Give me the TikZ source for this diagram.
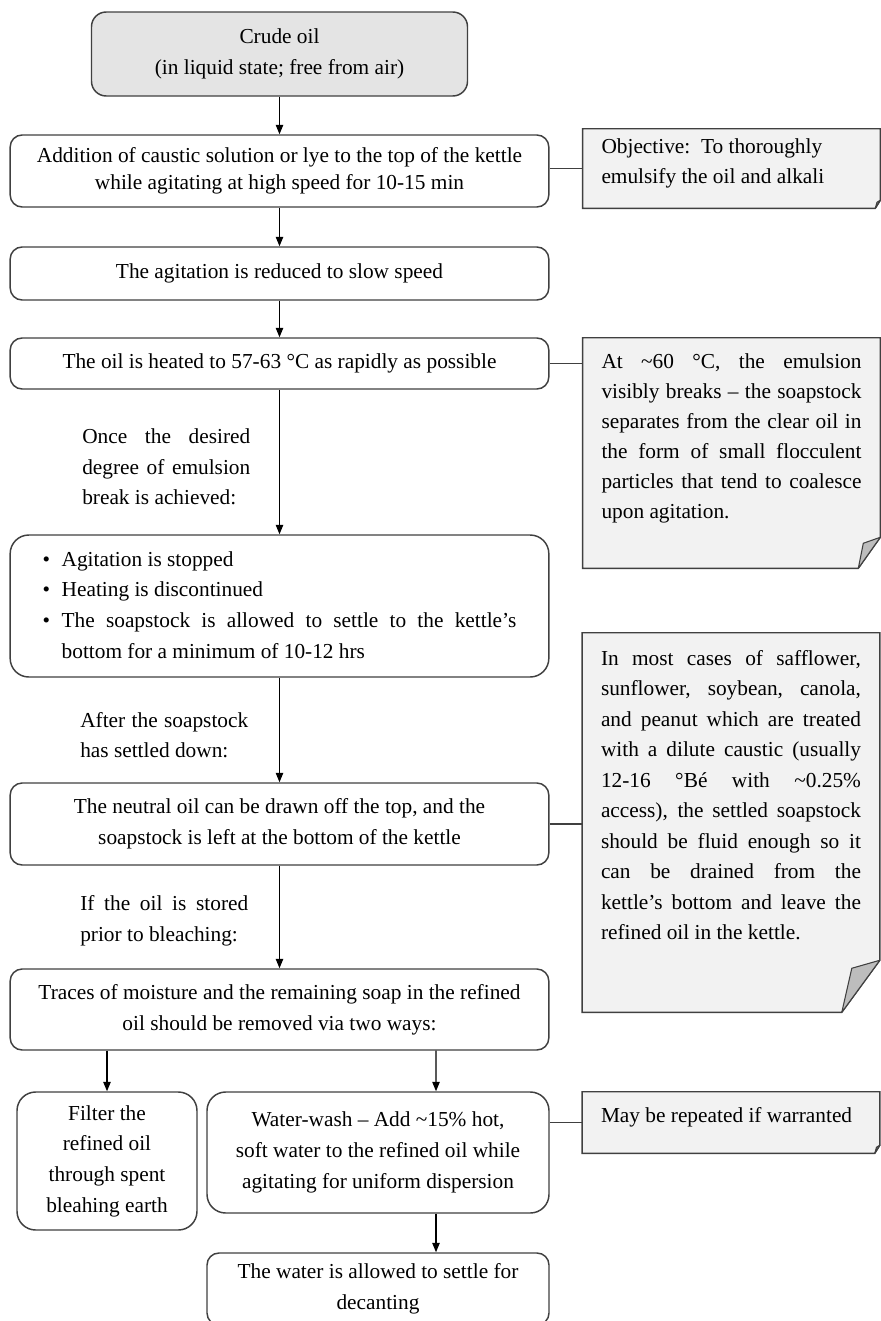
\documentclass[tikz,border=0pt]{standalone}
\usepackage{fontspec}
\setmainfont{Liberation Serif}
\usepackage{tikz}
\usetikzlibrary{arrows.meta,positioning,backgrounds}
\definecolor{edge}{HTML}{404040}
\definecolor{crudegray}{HTML}{E4E4E4}
\definecolor{notegray}{HTML}{F2F2F2}
\definecolor{flapgray}{HTML}{BDBDBD}

% text of a side note, top aligned in a box of fixed height
\newcommand\notetext[3]{\parbox[c][#1][t]{195pt}{\rule{0pt}{#2}#3}}
% frame of a side note with its folded corner
\newcommand\foldnote[5]{%
  \begin{scope}[on background layer]
    \draw[notebox] (#1.north west) -- (#1.north east) -- ([yshift=#3]#1.south east)
      -- ([xshift=-#2]#1.south east) -- (#1.south west) -- cycle;
    \draw[flap] ([xshift=-#2]#1.south east) -- ([xshift=-#4,yshift=#5]#1.south east)
      -- ([yshift=#3]#1.south east) -- cycle;
  \end{scope}}

\begin{document}
\begin{tikzpicture}[
  x=0.75pt,y=-0.75pt,
  font=\fontsize{16}{23}\selectfont,
  stepbox/.style={draw=edge,line width=1.1pt,rounded corners=9pt,fill=white,align=center,minimum width=404pt,inner sep=2pt},
  crudebox/.style={stepbox,fill=crudegray,minimum width=282pt,minimum height=63pt,rounded corners=11pt},
  cond/.style={align=justify,text width=126pt,inner sep=0pt,anchor=west},
  note/.style={inner xsep=13.9pt,inner ysep=0pt},
  notebox/.style={draw=edge,line width=1.1pt,fill=notegray},
  flap/.style={draw=edge,line width=0.8pt,fill=flapgray,line join=round},
  arr/.style={-{Triangle[length=7pt,width=5.5pt]},line width=0.9pt,draw=black},
  link/.style={line width=1.1pt,draw=edge}
]
\useasboundingbox (0,0) rectangle (881,1321);
\clip (0,0) rectangle (881,1321);

% main column
\node[crudebox] (crude) at (279.5,54) {Crude oil\\(in liquid state; free from air)};
\node[stepbox,minimum height=54pt,font=\fontsize{16}{20}\selectfont] (addn) at (279.5,171) {Addition of caustic solution or lye to the top of the kettle\\while agitating at high speed for 10-15 min};
\node[stepbox,minimum height=39.75pt] (slow) at (279.5,273.5) {The agitation is reduced to slow speed};
\node[stepbox,minimum height=38.25pt] (heat) at (279.5,363.5) {The oil is heated to 57-63 °C as rapidly as possible};
\node[cond] (brk) at (82,467) {Once the desired\linebreak degree of emulsion\linebreak break is achieved:};
\node[stepbox,minimum height=106.5pt,rounded corners=14pt] (stop) at (279.5,606) {%
  \begin{tabular}{@{}p{14.25pt}@{}p{341pt}@{}}
  \textbullet & Agitation is stopped\\
  \textbullet & Heating is discontinued\\
  \textbullet & The soapstock is allowed to settle to the kettle's\linebreak bottom for a minimum of 10-12 hrs
  \end{tabular}};
\node[cond] (settled) at (80,735) {After the soapstock\linebreak has settled down:};
\node[stepbox,minimum height=61.5pt] (drain) at (279.5,824) {The neutral oil can be drawn off the top, and the\\soapstock is left at the bottom of the kettle};
\node[cond] (stored) at (80,921) {If the oil is stored\linebreak prior to bleaching:};
\node[stepbox,minimum height=60.75pt] (trace) at (279.5,1009.5) {Traces of moisture and the remaining soap in the refined\\oil should be removed via two ways:};
\node[stepbox,minimum width=135pt,minimum height=103.5pt,rounded corners=14pt] (filter) at (107,1161) {Filter the\\refined oil\\through spent\\bleahing earth};
\node[stepbox,minimum width=256.5pt,minimum height=90.75pt,rounded corners=14pt] (wash) at (378,1152.5) {Water-wash -- Add \textasciitilde15\% hot,\\soft water to the refined oil while\\agitating for uniform dispersion};
\node[stepbox,minimum width=256.5pt,minimum height=54pt] (decant) at (378,1289) {The water is allowed to settle for\\decanting};

% side notes
\node[note] (obj) at (731.5,168.5) {\notetext{59.25pt}{18pt}{\raggedright Objective:\ \ To thoroughly\\emulsify the oil and alkali}};
\node[note] (brkn) at (731.5,453) {\notetext{172.5pt}{22.5pt}{\fontsize{16}{22.5}\selectfont At \textasciitilde60 °C, the emulsion\linebreak visibly breaks -- the soapstock\linebreak separates from the clear oil in\linebreak the form of small flocculent\linebreak particles that tend to coalesce\linebreak upon agitation.}};
\node[note] (fluid) at (731,822.5) {\notetext{284.25pt}{24pt}{\fontsize{16}{22.9}\selectfont In most cases of safflower,\linebreak sunflower, soybean, canola,\linebreak and peanut which are treated\linebreak with a dilute caustic (usually\linebreak 12-16 °Bé with \textasciitilde0.25\%\linebreak access), the settled soapstock\linebreak should be fluid enough so it\linebreak can be drained from the\linebreak kettle's bottom and leave the\linebreak refined oil in the kettle.}};
\node[note] (rep) at (731,1122.5) {\notetext{45.75pt}{22.5pt}{\raggedright May be repeated if warranted}};
\foldnote{obj}{3.75pt}{6pt}{2.5pt}{4.5pt}
\foldnote{brkn}{16.5pt}{23.25pt}{12.75pt}{18.75pt}
\foldnote{fluid}{28.5pt}{39pt}{21pt}{33pt}
\foldnote{rep}{3.75pt}{6pt}{2.5pt}{4.5pt}

% flow
\draw[arr] (crude) -- (addn);
\draw[arr] (addn) -- (slow);
\draw[arr] (slow) -- (heat);
\draw[arr] (heat) -- (stop);
\draw[arr] (stop) -- (drain);
\draw[arr] (drain) -- (trace);
\draw[arr] (trace.south -| filter.north) -- (filter.north);
\draw[arr] ([xshift=117.4pt]trace.south) -- ([xshift=43.5pt]wash.north);
\draw[arr] ([xshift=43.5pt]wash.south) -- ([xshift=43.5pt]decant.north);

% links to the notes
\draw[link] (obj.west -| addn.east) -- (obj.west);
\draw[link] (heat.east) -- (heat.east -| brkn.west);
\draw[link] (drain.east) -- (drain.east -| fluid.west);
\draw[link] (rep.west -| wash.east) -- (rep.west);
\end{tikzpicture}
\end{document}
